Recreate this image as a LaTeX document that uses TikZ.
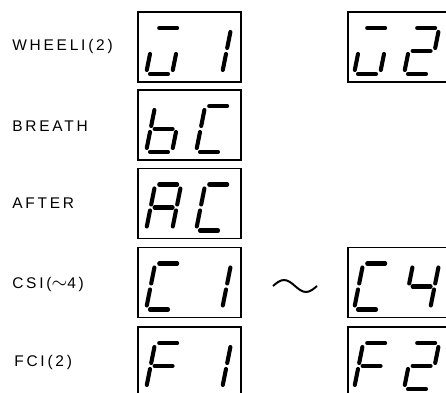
\documentclass[tikz,border=0pt]{standalone}
\usepackage{fontspec}
\setmainfont{Liberation Sans}
\newfontfamily\lblfont[LetterSpace=18]{Liberation Sans}
\usetikzlibrary{calc}

% seven-segment pieces, local units (digit 26 x 46)
\newcommand{\dsega}{\draw[seg] (4,46) -- (22,46);}
\newcommand{\dsegb}{\draw[seg] (26,42) -- (26,26);}
\newcommand{\dsegc}{\draw[seg] (26,20) -- (26,4);}
\newcommand{\dsegd}{\draw[seg] (4,0) -- (22,0);}
\newcommand{\dsege}{\draw[seg] (0,20) -- (0,4);}
\newcommand{\dsegf}{\draw[seg] (0,42) -- (0,26);}
\newcommand{\dsegg}{\draw[seg] (4,23) -- (22,23);}
\newcommand{\segdigit}[2]{%
  \begin{scope}[shift={#1},xslant=0.2]
    \foreach \s in {#2} {\csname dseg\s\endcsname}
  \end{scope}}

\begin{document}
\begin{tikzpicture}[
    x=0.025cm, y=0.025cm,
    box/.style={
      draw,
      line width=1.4pt,
      minimum width=2.575cm,
      minimum height=1.75cm,
      inner sep=0pt
    },
    seg/.style={
      line width=2.9pt,
      line cap=round
    },
    lbl/.style={
      anchor=west,
      font=\lblfont\fontsize{11pt}{13pt}\selectfont,
      inner sep=0pt
    }
  ]
  \useasboundingbox (0,0) rectangle (446,393);
  \clip (0,0) rectangle (446,393);

  % labels
  \node[lbl] (wheeli) at (12,346) {WHEELI(2)};
  \node[lbl] (breath) at (12,267) {BREATH};
  \node[lbl] (after)  at (12,190) {AFTER};
  \node[lbl] (csi)    at (12,109) {CSI({\Large$\sim$}4)};
  \node[lbl] (fci)    at (14,31)  {FCI(2)};

  % display windows
  \node[box] (w1) at (189.5,346) {};
  \node[box] (w2) at (399.5,346) {};
  \node[box] (b1) at (189.5,268) {};
  \node[box] (a1) at (189.5,189.5) {};
  \node[box] (c1) at (189.5,110.5) {};
  \node[box] (c4) at (399.5,110.5) {};
  \node[box] (f1) at (189.5,31) {};
  \node[box] (f2) at (399.5,31) {};

  % readouts
  \segdigit{($(w1.south west)+(9,9)$)}{a,e,c,d}
  \segdigit{($(w1.south west)+(59,9)$)}{b,c}
  \segdigit{($(w2.south west)+(7,9)$)}{a,e,c,d}
  \segdigit{($(w2.south west)+(57,9)$)}{a,b,g,e,d}
  \segdigit{($(b1.south west)+(9,9)$)}{f,e,g,c,d}
  \segdigit{($(b1.south west)+(59,9)$)}{a,f,e,d}
  \segdigit{($(a1.south west)+(9,9)$)}{a,b,c,e,f,g}
  \segdigit{($(a1.south west)+(59,9)$)}{a,f,e,d}
  \segdigit{($(c1.south west)+(9,9)$)}{a,f,e,d}
  \segdigit{($(c1.south west)+(59,9)$)}{b,c}
  \segdigit{($(c4.south west)+(7,9)$)}{a,f,e,d}
  \segdigit{($(c4.south west)+(57,9)$)}{f,g,b,c}
  \segdigit{($(f1.south west)+(9,9)$)}{a,f,e,g}
  \segdigit{($(f1.south west)+(59,9)$)}{b,c}
  \segdigit{($(f2.south west)+(7,9)$)}{a,f,e,g}
  \segdigit{($(f2.south west)+(57,9)$)}{a,b,g,e,d}

  % range mark
  \draw[line width=1.4pt] (273,107) sin (284,113) cos (295,107) sin (306,101) cos (317,107);
\end{tikzpicture}
\end{document}
